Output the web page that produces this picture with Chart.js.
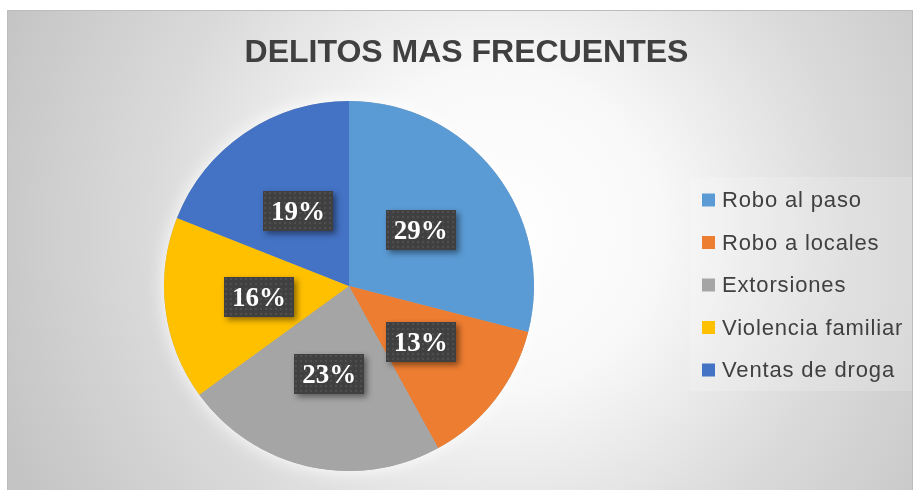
<!DOCTYPE html>
<html>
<head>
<meta charset="utf-8">
<script src="https://cdn.jsdelivr.net/npm/chart.js@4/dist/chart.umd.min.js"></script>
<style>
html,body{margin:0;padding:0;background:#fff;}
#wrap{width:915px;height:490px;position:relative;}
</style>
</head>
<body>
<div id="wrap"><canvas id="c" width="915" height="490"></canvas></div>
<script>
const chartTitle = "DELITOS MAS FRECUENTES";
const categories = ["Robo al paso", "Robo a locales", "Extorsiones", "Violencia familiar", "Ventas de droga"];
const values = [29, 13, 23, 16, 19];
const colors = ["#5B9BD5", "#ED7D31", "#A5A5A5", "#FFC000", "#4472C4"];

function makePattern(ctx) {
  const p = document.createElement('canvas');
  p.width = 5; p.height = 5;
  const g = p.getContext('2d');
  g.fillStyle = '#404040';
  g.fillRect(0, 0, 5, 5);
  g.fillStyle = '#4f4f4f';
  g.fillRect(1, 1, 2, 2);
  return ctx.createPattern(p, 'repeat');
}

const bgPlugin = {
  id: 'bg',
  beforeDraw(chart) {
    const ctx = chart.ctx;
    ctx.save();
    ctx.fillStyle = '#ffffff';
    ctx.fillRect(0, 0, chart.width, chart.height);
    const g = ctx.createRadialGradient(500, 230, 0, 500, 230, 540);
    g.addColorStop(0, '#ffffff');
    g.addColorStop(0.3, '#f8f8f8');
    g.addColorStop(0.65, '#dadada');
    g.addColorStop(1, '#c4c4c4');
    ctx.fillStyle = g;
    ctx.fillRect(7, 10, 906, 480);
    ctx.strokeStyle = '#bdbdbd';
    ctx.lineWidth = 1;
    ctx.strokeRect(7.5, 10.5, 905, 485);
    // title
    ctx.fillStyle = '#404040';
    ctx.font = 'bold 32px "Liberation Sans", Arial, sans-serif';
    ctx.textAlign = 'center';
    ctx.textBaseline = 'alphabetic';
    ctx.fillText(chartTitle, 466.5, 62);
    // legend
    ctx.fillStyle = 'rgba(255,255,255,0.18)';
    ctx.fillRect(690, 177, 222, 214);
    ctx.font = '22px "Liberation Sans", Arial, sans-serif';
    ctx.textAlign = 'left';
    ctx.textBaseline = 'middle';
    try { ctx.letterSpacing = '0.85px'; } catch(e) {}
    const labels = chart.data.labels;
    const cols = chart.data.datasets[0].backgroundColor;
    labels.forEach((l, i) => {
      const cy = 200 + i * 42.5;
      ctx.fillStyle = cols[i];
      ctx.fillRect(702, cy - 6.5, 13, 13);
      ctx.fillStyle = '#404040';
      ctx.fillText(l, 722, cy + 1);
    });
    ctx.restore();
  },
  beforeDatasetsDraw(chart) {
    const arcs = chart.getDatasetMeta(0).data;
    if (!arcs.length) return;
    const a = arcs[0];
    const ctx = chart.ctx;
    ctx.save();
    ctx.shadowColor = 'rgba(255,255,255,0.95)';
    ctx.shadowBlur = 18;
    ctx.fillStyle = '#a5a5a5';
    ctx.beginPath();
    ctx.arc(a.x, a.y, a.outerRadius, 0, Math.PI * 2);
    ctx.fill();
    ctx.restore();
  },
  afterDatasetsDraw(chart) {
    const ctx = chart.ctx;
    const arcs = chart.getDatasetMeta(0).data;
    const data = chart.data.datasets[0].data;
    const total = data.reduce((s, v) => s + v, 0);
    const pat = makePattern(ctx);
    arcs.forEach((a, i) => {
      const mid = (a.startAngle + a.endAngle) / 2;
      const r = a.outerRadius * 0.49;
      const x = a.x + Math.cos(mid) * r;
      const y = a.y + Math.sin(mid) * r;
      const w = 70, h = 40;
      ctx.save();
      ctx.shadowColor = 'rgba(0,0,0,0.45)';
      ctx.shadowBlur = 6;
      ctx.shadowOffsetX = 3;
      ctx.shadowOffsetY = 3;
      ctx.fillStyle = '#404040';
      ctx.fillRect(Math.round(x - w / 2), Math.round(y - h / 2), w, h);
      ctx.restore();
      ctx.save();
      ctx.fillStyle = pat;
      ctx.translate(Math.round(x - w / 2), Math.round(y - h / 2));
      ctx.fillRect(0, 0, w, h);
      ctx.restore();
      ctx.save();
      ctx.fillStyle = '#ffffff';
      ctx.font = 'bold 27px "Liberation Serif", "Times New Roman", serif';
      ctx.textAlign = 'center';
      ctx.textBaseline = 'middle';
      ctx.fillText(Math.round(data[i] / total * 100) + '%', x, y + 2);
      ctx.restore();
    });
  }
};

new Chart(document.getElementById('c'), {
  type: 'pie',
  data: {
    labels: categories,
    datasets: [{
      data: values,
      backgroundColor: colors,
      borderWidth: 0,
      hoverOffset: 0
    }]
  },
  options: {
    responsive: false,
    animation: false,
    events: [],
    layout: { padding: { left: 164, right: 381, top: 101, bottom: 19 } },
    plugins: {
      legend: { display: false },
      title: { display: false },
      tooltip: { enabled: false }
    }
  },
  plugins: [bgPlugin]
});
</script>
</body>
</html>
